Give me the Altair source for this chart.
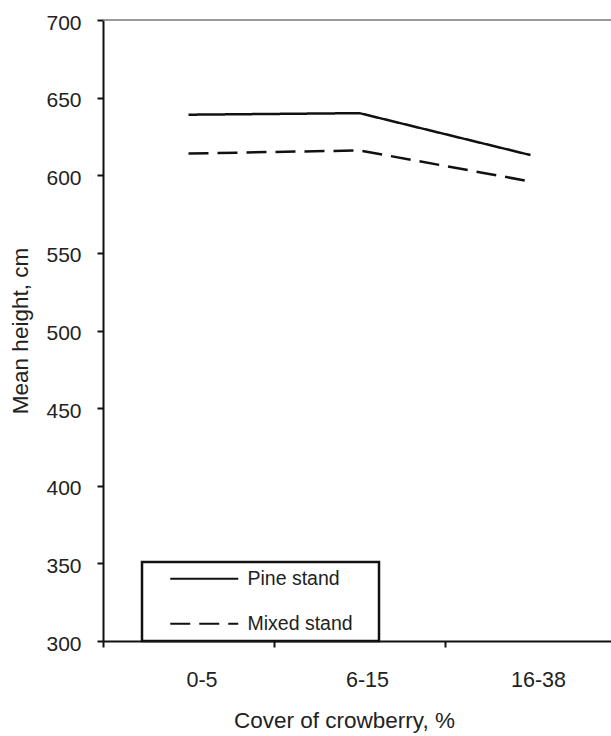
import altair as alt
import pandas as pd

categories = ["0-5", "6-15", "16-38"]
pine = [639, 640, 613]
mixed = [614, 616, 596]
series_names = ["Pine stand", "Mixed stand"]
y_ticks = [300, 350, 400, 450, 500, 550, 600, 650, 700]

rows = []
for s, vals in zip(series_names, [pine, mixed]):
    for c, v in zip(categories, vals):
        rows.append({"cover": c, "height": v, "stand": s})
df = pd.DataFrame(rows)
top_df = pd.DataFrame({"top": [y_ticks[-1]]})

FONT = "Liberation Sans"
TXT = "#222222"

yscale = alt.Scale(domain=[y_ticks[0], y_ticks[-1]], nice=False, zero=False)

lines = alt.Chart(df).mark_line(color="#111111", strokeWidth=2.5).encode(
    x=alt.X(
        "cover:O",
        sort=categories,
        bandPosition=0.5,
        scale=alt.Scale(type="band", domain=categories, range=[0, 513],
                        paddingInner=0, paddingOuter=0),
        axis=alt.Axis(
            title="Cover of crowberry, %",
            labelAngle=0, tickBand="extent",
            domainColor="#111111", domainWidth=2,
            tickColor="#111111", tickWidth=2, tickSize=6,
            labelFont=FONT, labelFontSize=21.5, labelColor=TXT, labelPadding=22,
            labelOffset={"condition": {"test": "datum.value === '0-5'", "value": 13}, "value": 7.5},
            titleFont=FONT, titleFontSize=22.5, titleFontWeight="normal", titleColor=TXT,
            titlePadding=19, titleX=241, grid=False,
        ),
    ),
    y=alt.Y(
        "height:Q",
        scale=yscale,
        axis=alt.Axis(
            title="Mean height, cm", values=y_ticks,
            domainColor="#111111", domainWidth=2,
            tickColor="#111111", tickWidth=2, tickSize=6,
            labelFont=FONT, labelFontSize=21, labelColor=TXT, labelPadding=16,
            labelOffset=3,
            titleFont=FONT, titleFontSize=22.5, titleFontWeight="normal", titleColor=TXT,
            titlePadding=13, grid=False,
        ),
    ),
    strokeDash=alt.StrokeDash(
        "stand:N",
        scale=alt.Scale(domain=series_names, range=[[1, 0], [20, 9]]),
        legend=alt.Legend(
            title="M", titleOrient="right", titleColor="white",
            titleFontSize=16, titlePadding=5, titleFont=FONT,
            orient="none", legendX=39, legendY=542,
            direction="vertical",
            symbolType="M1.353,0H9.353", symbolSize=289,
            symbolStrokeWidth=2, symbolStrokeColor="#111111",
            labelFont=FONT, labelFontSize=19.5, labelColor=TXT, labelOffset=79,
            rowPadding=24, padding=7, fillColor="white",
        ),
    ),
)

top_line = alt.Chart(top_df).mark_rule(color="#777777", strokeWidth=1.5).encode(
    y=alt.Y("top:Q", scale=yscale)
)

chart = (
    alt.layer(top_line, lines)
    .properties(
        width=508, height=621,
        autosize=alt.AutoSizeParams(type="none"),
        padding={"left": 103, "top": 20, "right": 0, "bottom": 95},
    )
    .configure_view(stroke=None)
    .configure_legend(strokeColor="#111111", strokeWidth=2.5)
)

chart.save("out.html", embed_options={"renderer": "svg", "actions": False})
